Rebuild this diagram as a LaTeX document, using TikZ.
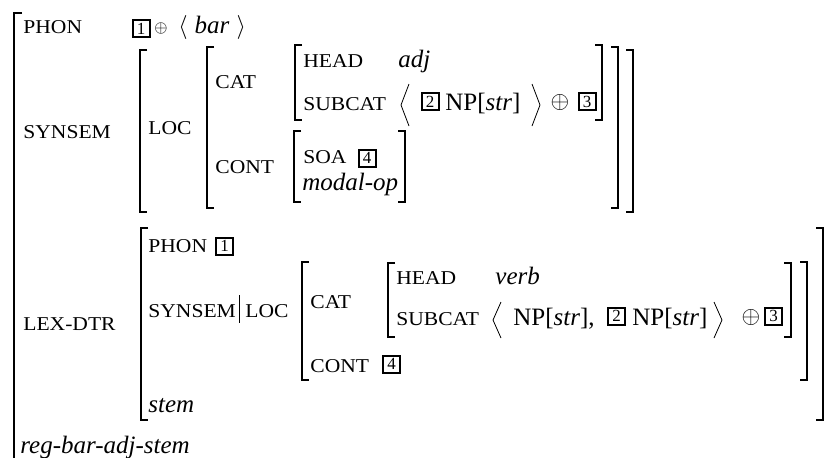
\documentclass[tikz,border=0pt]{standalone}
\usepackage{fontspec}
\setmainfont{Liberation Serif}
\newfontfamily\scfont[FakeStretch=1.1]{Liberation Serif}
\newcommand{\avmfont}{\fontsize{12.5}{15}\selectfont}
\newcommand{\attrfont}{\scfont\fontsize{9.8}{12}\selectfont}
\newcommand{\tagfont}{\fontsize{8.5}{9}\selectfont}
% brackets: x, top, bottom
\newcommand{\avmlb}[3]{\draw[brk] (#1+7,#2) -- (#1,#2) -- (#1,#3) -- (#1+7,#3);}
\newcommand{\avmrb}[3]{\draw[brk] (#1-7,#2) -- (#1,#2) -- (#1,#3) -- (#1-7,#3);}
\newcommand{\avmla}[3]{\draw[thin] (#1+8,#2) -- (#1,{(#2+#3)/2}) -- (#1+8,#3);}
\newcommand{\avmra}[3]{\draw[thin] (#1-8,#2) -- (#1,{(#2+#3)/2}) -- (#1-8,#3);}
\tikzset{
	attr/.style={anchor=base west, inner sep=0pt, font=\attrfont},
	val/.style={anchor=base west, inner sep=0pt, font=\avmfont\itshape},
	txt/.style={anchor=base west, inner sep=0pt, font=\avmfont},
	tag/.style={draw, line width=1pt, minimum width=8.5pt, minimum height=8.5pt, inner sep=0pt, font=\tagfont},
	plus/.style={inner sep=0pt, font=\fontsize{11.5}{13}\selectfont},
	brk/.style={line width=0.65pt},
}
\begin{document}
\begin{tikzpicture}[x=0.5pt, y=-0.5pt]
	\useasboundingbox (0,0) rectangle (830,457);
	% Paths, nodes and wires:
	\draw[line width=1pt] (22,13) -- (13.5,13) -- (13.5,460);
	\node[attr] (phon) at (23,33) {PHON};
	\node[tag] (phonTag1) at (141,28.5) {1};
	\node[plus, font=\fontsize{8}{9}\selectfont] (phonPlus) at (161,28) {$\oplus$};
	\node[txt] (phonBar) at (178,33) {$\langle$\hspace{3.5pt}\textit{bar}\hspace{3.5pt}$\rangle$};
	\node[attr] (synsem) at (23,138) {SYNSEM};
	\avmlb{140}{50}{212} \avmrb{633}{50}{212}
	\node[attr] (loc) at (148,134) {LOC};
	\avmlb{207}{47}{208} \avmrb{618}{47}{208}
	\node[attr] (cat) at (215,88) {CAT};
	\node[attr] (cont) at (215,173) {CONT};
	\avmlb{295}{45}{120} \avmrb{602}{45}{120}
	\node[attr] (head) at (303,67) {HEAD};
	\node[val] (headVal) at (398,67) {adj};
	\node[attr] (subcat) at (303,110) {SUBCAT};
	\avmla{401}{84}{126}
	\node[tag] (subTag2) at (430,101.5) {2};
	\node[txt] (subNP) at (445,110) {NP[\textit{str}]};
	\avmra{540}{84}{126}
	\node[plus] (subPlus) at (560,102) {$\oplus$};
	\node[tag] (subTag3) at (587,101.5) {3};
	\avmlb{294}{131}{202} \avmrb{405}{131}{202}
	\node[attr] (soa) at (303,163) {SOA};
	\node[tag] (soaTag4) at (367,158) {4};
	\node[val] (modalop) at (302,190) {modal-op};
	\node[attr] (lexdtr) at (23,330) {LEX-DTR};
	\avmlb{141}{228}{420} \avmrb{823}{228}{420}
	\node[attr] (ldPhon) at (148,252) {PHON};
	\node[tag] (ldTag1) at (224.5,246) {1};
	\node[attr] (ldSynsem) at (148,317) {SYNSEM};
	\draw[thin] (239,295) -- (239,323);
	\node[attr] (ldLoc) at (245,317) {LOC};
	\node[val] (stem) at (148,412) {stem};
	\avmlb{302}{262}{380} \avmrb{807}{262}{380}
	\node[attr] (ldCat) at (310,308) {CAT};
	\node[attr] (ldCont) at (310,372) {CONT};
	\node[tag] (ldTag4) at (391.5,364) {4};
	\avmlb{388}{263}{337} \avmrb{791}{263}{337}
	\node[attr] (ldHead) at (396,284) {HEAD};
	\node[val] (ldVerb) at (495,284) {verb};
	\node[attr] (ldSubcat) at (396,325) {SUBCAT};
	\avmla{493}{302}{338}
	\node[txt] (ldNP1) at (513,325) {NP[\textit{str}],};
	\node[tag] (ldTag2) at (616.5,316) {2};
	\node[txt] (ldNP2) at (632,325) {NP[\textit{str}]};
	\avmra{722}{302}{338}
	\node[plus] (ldPlus) at (751,317) {$\oplus$};
	\node[tag] (ldTag3) at (773.5,316) {3};
	\node[val] (type) at (20,453) {reg-bar-adj-stem};
\end{tikzpicture}
\end{document}
